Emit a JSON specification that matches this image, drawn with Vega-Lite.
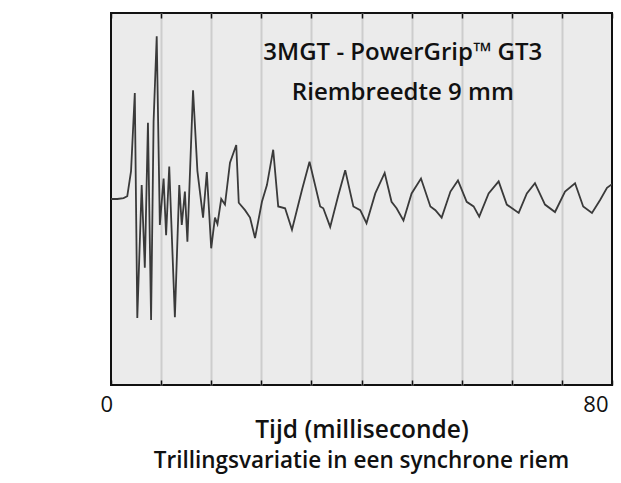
{
  "$schema": "https://vega.github.io/schema/vega-lite/v6.json",
  "width": 501,
  "height": 372,
  "autosize": "none",
  "padding": {"left": 111, "top": 13, "right": 9, "bottom": 98},
  "background": "white",
  "config": {
    "view": {"fill": "#ebebeb", "stroke": "#111111", "strokeWidth": 2},
    "font": "Open Sans"
  },
  "title": {
    "text": "Trillingsvariatie in een synchrone riem",
    "orient": "bottom",
    "anchor": "middle",
    "fontSize": 22.5,
    "fontWeight": 600,
    "color": "#111111",
    "offset": 8
  },
  "datasets": {
    "signal": [
      {"t": 0, "p": 0.0}, {"t": 1, "p": 0.0}, {"t": 2, "p": 0.01}, {"t": 2.6, "p": 0.03},
      {"t": 3.2, "p": 0.3}, {"t": 3.8, "p": 1.14}, {"t": 4.2, "p": -1.28}, {"t": 4.9, "p": 0.15},
      {"t": 5.4, "p": -0.74}, {"t": 5.9, "p": 0.82}, {"t": 6.4, "p": -1.3}, {"t": 6.8, "p": 0.83},
      {"t": 7.3, "p": 1.75}, {"t": 7.8, "p": -0.28}, {"t": 8.4, "p": 0.22}, {"t": 8.8, "p": -0.39},
      {"t": 9.3, "p": 0.35}, {"t": 10.2, "p": -1.27}, {"t": 10.9, "p": 0.15}, {"t": 11.3, "p": -0.28},
      {"t": 11.8, "p": 0.08}, {"t": 12.2, "p": -0.46}, {"t": 13.1, "p": 1.17}, {"t": 13.8, "p": 0.3},
      {"t": 14.7, "p": -0.2}, {"t": 15.3, "p": 0.29}, {"t": 16.0, "p": -0.53}, {"t": 16.6, "p": -0.2},
      {"t": 17.0, "p": -0.27}, {"t": 17.6, "p": 0.0}, {"t": 18.2, "p": -0.06}, {"t": 19.0, "p": 0.39},
      {"t": 20.0, "p": 0.58}, {"t": 20.4, "p": -0.04}, {"t": 21.4, "p": -0.12}, {"t": 22.2, "p": -0.2},
      {"t": 23.0, "p": -0.42}, {"t": 24.1, "p": -0.03}, {"t": 24.9, "p": 0.15}, {"t": 25.9, "p": 0.53},
      {"t": 26.7, "p": -0.08}, {"t": 27.8, "p": -0.1}, {"t": 28.9, "p": -0.33}, {"t": 30.5, "p": 0.1},
      {"t": 31.7, "p": 0.4}, {"t": 33.4, "p": -0.08}, {"t": 33.9, "p": -0.1}, {"t": 35.0, "p": -0.3},
      {"t": 36.3, "p": 0.04}, {"t": 37.4, "p": 0.31}, {"t": 38.7, "p": -0.08}, {"t": 39.8, "p": -0.12},
      {"t": 40.8, "p": -0.26}, {"t": 42.2, "p": 0.06}, {"t": 43.7, "p": 0.28}, {"t": 44.8, "p": -0.03},
      {"t": 45.6, "p": -0.1}, {"t": 46.7, "p": -0.23}, {"t": 48.0, "p": 0.06}, {"t": 49.5, "p": 0.22},
      {"t": 51.0, "p": -0.08}, {"t": 51.8, "p": -0.12}, {"t": 52.8, "p": -0.2}, {"t": 54.2, "p": 0.08},
      {"t": 55.4, "p": 0.2}, {"t": 56.8, "p": -0.03}, {"t": 57.9, "p": -0.08}, {"t": 58.8, "p": -0.19},
      {"t": 60.3, "p": 0.06}, {"t": 61.9, "p": 0.19}, {"t": 63.2, "p": -0.06}, {"t": 65.1, "p": -0.15},
      {"t": 66.4, "p": 0.06}, {"t": 67.7, "p": 0.17}, {"t": 69.3, "p": -0.06}, {"t": 70.9, "p": -0.14},
      {"t": 72.5, "p": 0.08}, {"t": 74.1, "p": 0.17}, {"t": 75.4, "p": -0.08}, {"t": 76.8, "p": -0.15},
      {"t": 78.1, "p": -0.01}, {"t": 79.2, "p": 0.12}, {"t": 80, "p": 0.16}
    ],
    "notes": [
      {"t": 46.6, "p": 1.57, "label": "3MGT - PowerGrip™ GT3"},
      {"t": 46.6, "p": 1.14, "label": "Riembreedte 9 mm"}
    ]
  },
  "layer": [
    {
      "data": {"name": "signal"},
      "mark": {"type": "line", "color": "#3a3a3a", "strokeWidth": 1.8, "clip": true},
      "encoding": {
        "x": {
          "field": "t", "type": "quantitative",
          "scale": {"domain": [0, 80], "nice": false},
          "axis": {
            "orient": "bottom",
            "values": [8, 16, 24, 32, 40, 48, 56, 64, 72],
            "labels": false, "grid": false, "domain": false, "title": null,
            "tickSize": -372, "tickColor": "#cdcdcd", "tickWidth": 2
          }
        },
        "y": {
          "field": "p", "type": "quantitative",
          "scale": {"domain": [-2, 2], "nice": false},
          "axis": {
            "orient": "left",
            "values": [-2, -1.6, -1.2, -0.8, -0.4, 0, 0.4, 0.8, 1.2, 1.6, 2],
            "labelExpr": "datum.value == 0 ? '0' : datum.value == 2 ? '2' : datum.value == -2 ? '-2' : ''",
            "grid": true, "gridColor": "#cdcdcd", "gridWidth": 2,
            "domain": false,
            "tickSize": -5, "tickColor": "#111111", "tickWidth": 1.5,
            "labelPadding": 19, "labelFontSize": 22, "labelFontWeight": 500, "labelColor": "#111111",
            "labelFlush": true, "labelFlushOffset": 5, "labelOffset": 1,
            "title": "Wijzigingen in geluidsdruk", "titleFontSize": 24, "titleFontWeight": 600,
            "titleColor": "#111111", "titlePadding": 40
          }
        }
      }
    },
    {
      "data": {"name": "signal"},
      "mark": {"type": "line", "strokeOpacity": 0},
      "encoding": {
        "x": {
          "field": "t", "type": "quantitative",
          "axis": {
            "orient": "top",
            "values": [0, 8, 16, 24, 32, 40, 48, 56, 64, 72, 80],
            "labels": false, "grid": false, "domain": false, "title": null,
            "tickSize": -5, "tickColor": "#111111", "tickWidth": 1.5
          }
        },
        "y": {"field": "p", "type": "quantitative", "axis": null}
      }
    },
    {
      "data": {"name": "signal"},
      "mark": {"type": "line", "strokeOpacity": 0},
      "encoding": {
        "x": {
          "field": "t", "type": "quantitative",
          "axis": {
            "orient": "bottom",
            "values": [0, 8, 16, 24, 32, 40, 48, 56, 64, 72, 80],
            "labelExpr": "datum.value == 0 ? '0' : datum.value == 80 ? '80' : ''",
            "grid": false, "domain": false,
            "tickSize": -5, "tickColor": "#111111", "tickWidth": 1.5,
            "labelPadding": 14, "labelFontSize": 22, "labelFontWeight": 500, "labelColor": "#111111",
            "labelFlush": true, "labelFlushOffset": 3.5, "labelOffset": -7.5,
            "title": "Tijd (milliseconde)", "titleFontSize": 24.5, "titleFontWeight": 600,
            "titleColor": "#111111", "titlePadding": 3
          }
        },
        "y": {"field": "p", "type": "quantitative", "axis": null}
      }
    },
    {
      "data": {"name": "notes"},
      "mark": {"type": "text", "fontSize": 24, "fontWeight": 600, "color": "#111111", "align": "center", "baseline": "middle"},
      "encoding": {
        "x": {"field": "t", "type": "quantitative", "axis": null},
        "y": {"field": "p", "type": "quantitative", "axis": null},
        "text": {"field": "label", "type": "nominal"}
      }
    }
  ],
  "resolve": {"axis": {"x": "independent"}}
}
